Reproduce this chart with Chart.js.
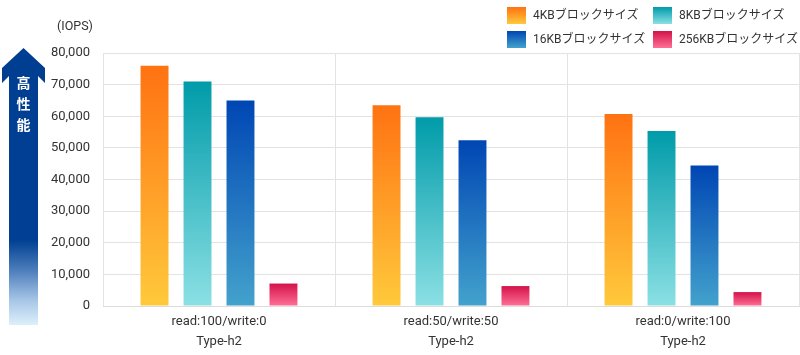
<!DOCTYPE html>
<html>
<head>
<meta charset="utf-8">
<script src="https://cdn.jsdelivr.net/npm/chart.js@4"></script>
<style>
  html, body { margin: 0; padding: 0; background: #fff; }
  #wrap { position: relative; width: 800px; height: 355px; font-family: Roboto, "Noto Sans CJK JP", sans-serif; color: #333; }
  #c { position: absolute; left: 0; top: 0; }
  .lg { position: absolute; font-size: 12px; line-height: 17px; white-space: nowrap; }
  .lg .box { position: absolute; left: 0; top: 0; width: 19px; height: 17px; }
  .lg .txt { position: absolute; top: 0; }
  #iops { position: absolute; left: 57px; top: 18px; font-size: 12.5px; }
  #perf { position: absolute; left: 9px; width: 29px; text-align: center; color: #fff; font-weight: bold; font-size: 14px; font-family: "Noto Sans CJK JP", sans-serif; }
  #perf div { position: absolute; left: 0; width: 29px; }
</style>
</head>
<body>
<div id="wrap">
  <canvas id="c" width="800" height="355"></canvas>
  <div id="iops">(IOPS)</div>
  <div id="perf"></div>
  <div id="legend"></div>
</div>
<script>
const categories = [["read:100/write:0", "Type-h2"], ["read:50/write:50", "Type-h2"], ["read:0/write:100", "Type-h2"]];
const seriesNames = ["4KBブロックサイズ", "8KBブロックサイズ", "16KBブロックサイズ", "256KBブロックサイズ"];
const values4KB = [76000, 63500, 60700];
const values8KB = [71000, 59700, 55300];
const values16KB = [65000, 52400, 44400];
const values256KB = [7100, 6300, 4400];
const yTicks = [0, 10000, 20000, 30000, 40000, 50000, 60000, 70000, 80000];
const arrowLabel = ["高", "性", "能"];

const gradStops = [
  ["#FF7212", "#FFC93B"],
  ["#009BA9", "#8BE0E4"],
  ["#0046B4", "#43A2CC"],
  ["#D31249", "#FF7096"]
];
const allValues = [values4KB, values8KB, values16KB, values256KB];

function barGradient(ctx, i) {
  const chart = ctx.chart;
  if (!chart.chartArea || ctx.raw == null) return gradStops[i][0];
  const ys = chart.scales.y;
  const top = ys.getPixelForValue(ctx.raw);
  const bottom = ys.getPixelForValue(0);
  const g = chart.ctx.createLinearGradient(0, top, 0, bottom);
  g.addColorStop(0, gradStops[i][0]);
  g.addColorStop(1, gradStops[i][1]);
  return g;
}

const datasets = seriesNames.map((name, i) => ({
  label: name,
  data: allValues[i],
  backgroundColor: (ctx) => barGradient(ctx, i),
  borderWidth: 0,
  categoryPercentage: 0.741,
  barPercentage: 0.65
}));

// Arrow decoration
const arrowPlugin = {
  id: 'arrow',
  beforeDraw(chart) {
    const c = chart.ctx;
    c.save();
    const g = c.createLinearGradient(0, 48, 0, 325);
    const f = (y) => (y - 48) / (325 - 48);
    g.addColorStop(0, "#003E92");
    g.addColorStop(f(240), "#003F93");
    g.addColorStop(f(270), "#4C7DBB");
    g.addColorStop(f(300), "#A6C5E6");
    g.addColorStop(1, "#DDF0FB");
    c.fillStyle = g;
    c.beginPath();
    c.moveTo(23.5, 48);
    c.lineTo(45, 68);
    c.lineTo(45, 83);
    c.lineTo(38, 76);
    c.lineTo(38, 325);
    c.lineTo(9, 325);
    c.lineTo(9, 76);
    c.lineTo(2, 83);
    c.lineTo(2, 68);
    c.closePath();
    c.fill();
    c.restore();
  }
};

const chart = new Chart(document.getElementById('c'), {
  type: 'bar',
  data: { labels: categories, datasets },
  options: {
    responsive: false,
    animation: false,
    layout: { padding: { top: 53, right: 1, left: 0, bottom: 0 } },
    plugins: { legend: { display: false }, tooltip: { enabled: false } },
    scales: {
      x: {
        grid: { color: "#e3e3e3", drawTicks: false, offset: true },
        border: { color: "#dcdcdc" },
        ticks: { color: "#333", font: { family: "Roboto, 'Noto Sans CJK JP', sans-serif", size: 13, lineHeight: 1.5 }, padding: 6, maxRotation: 0, autoSkip: false },
        afterFit: (s) => { s.height = 49; }
      },
      y: {
        min: 0, max: 80000,
        afterBuildTicks: (s) => { s.ticks = yTicks.map(v => ({ value: v })); },
        grid: { color: "#e3e3e3", drawTicks: false },
        border: { display: false },
        ticks: {
          color: "#333", padding: 13,
          font: { family: "Roboto, 'Noto Sans CJK JP', sans-serif", size: 13 },
          callback: (v) => v.toLocaleString('en-US')
        },
        afterFit: (s) => { s.width = 103; }
      }
    }
  },
  plugins: [arrowPlugin]
});

// HTML legend
const legendPos = [[507, 7], [653, 7], [507, 31], [653, 31]];
const legendEl = document.getElementById('legend');
seriesNames.forEach((name, i) => {
  const d = document.createElement('div');
  d.className = 'lg';
  d.style.left = legendPos[i][0] + 'px';
  d.style.top = legendPos[i][1] + 'px';
  const b = document.createElement('span');
  b.className = 'box';
  b.style.background = `linear-gradient(${gradStops[i][0]}, ${gradStops[i][1]})`;
  const t = document.createElement('span');
  t.className = 'txt';
  t.style.left = '26px';
  t.textContent = name;
  d.appendChild(b); d.appendChild(t);
  legendEl.appendChild(d);
});

// Arrow label
const perf = document.getElementById('perf');
perf.style.top = '0px';
arrowLabel.forEach((ch, i) => {
  const d = document.createElement('div');
  d.textContent = ch;
  d.style.top = (72 + i * 21) + 'px';
  perf.appendChild(d);
});
</script>
</body>
</html>
